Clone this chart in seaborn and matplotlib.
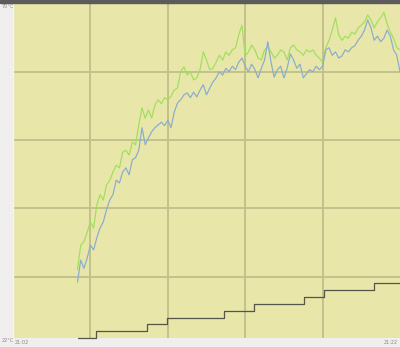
import numpy as np
import pandas as pd
import matplotlib
matplotlib.use("Agg")
import matplotlib.pyplot as plt
import seaborn as sns

# sample clock: one reading every 10 s from 21:05:20 to 21:22:00 (seconds after 21:02)
time_s = np.arange(200, 1201, 10)

sensor_green = [31.0, 34.6, 35.1, 36.5, 38.0, 37.1, 40.5, 42.0, 41.2, 43.4,
                44.1, 45.3, 46.3, 45.9, 48.2, 48.5, 47.8, 49.7, 49.3, 52.2,
                54.7, 53.2, 54.4, 53.2, 55.1, 55.9, 55.3, 56.2, 55.9, 56.4,
                57.3, 57.6, 60.0, 60.7, 59.5, 60.0, 58.8, 59.1, 60.3, 62.9,
                61.7, 60.3, 60.5, 61.4, 62.4, 61.7, 62.9, 62.4, 63.2, 63.5,
                65.4, 66.8, 62.3, 62.9, 63.9, 63.2, 62.0, 61.7, 63.2, 63.6,
                62.9, 62.0, 62.4, 63.2, 62.9, 61.7, 63.5, 63.9, 63.2, 62.9,
                62.4, 63.2, 62.9, 63.2, 62.4, 62.0, 61.4, 63.5, 64.6, 66.1,
                67.9, 65.4, 64.6, 65.2, 64.9, 65.8, 65.5, 66.4, 66.8, 67.3,
                68.3, 67.6, 66.4, 67.3, 67.9, 68.7, 67.0, 65.8, 64.9, 63.5,
                63.2]

sensor_blue = [29.2, 32.4, 31.2, 32.7, 34.6, 33.9, 35.7, 37.1, 38.0, 39.8,
               41.2, 42.0, 44.1, 43.7, 45.3, 45.9, 44.9, 47.1, 47.4, 48.5,
               51.8, 49.3, 50.3, 51.2, 51.8, 52.2, 52.6, 52.1, 52.9, 51.8,
               54.1, 55.4, 55.9, 56.6, 56.9, 56.2, 57.0, 56.3, 57.3, 58.1,
               56.6, 57.6, 58.5, 59.1, 60.0, 59.5, 60.5, 60.0, 60.8, 60.3,
               61.4, 62.0, 60.8, 60.0, 61.1, 60.3, 59.1, 60.5, 61.7, 64.4,
               61.4, 59.2, 60.3, 60.8, 59.1, 60.5, 62.6, 61.7, 60.5, 61.1,
               59.1, 59.7, 60.3, 60.0, 60.8, 60.3, 60.8, 63.2, 63.5, 62.4,
               62.9, 62.0, 62.3, 63.2, 62.9, 63.5, 63.8, 64.6, 65.2, 66.1,
               67.6, 66.4, 64.6, 65.2, 64.4, 64.9, 66.1, 65.2, 63.2, 62.4,
               60.0]

step_time_s = [202, 257, 416, 477, 653, 746, 903, 965, 1118, 1200]
step_value = [21, 22, 23, 24, 25, 26, 27, 28, 29, 29]

label_top = "70°C"
label_bottom = "22°C"
label_start = "21:02"
label_end = "21:22"

df_g = pd.DataFrame({"t": time_s, "v": sensor_green})
df_b = pd.DataFrame({"t": time_s, "v": sensor_blue})
df_s = pd.DataFrame({"t": step_time_s, "v": step_value})

sns.set_theme(style="white")
plt.rcParams["font.family"] = ["DejaVu Sans"]

W, H = 400, 347
fig = plt.figure(figsize=(W / 100, H / 100), dpi=100)
fig.patch.set_facecolor("#f0efed")
ax = fig.add_axes([13 / W, 9 / H, 387 / W, 334.6 / H])
ax.set_facecolor("#e8e6a8")

ax.set_xlim(0, 1200)
ax.set_ylim(21, 70)
ax.set_xticks([240, 480, 720, 960])
ax.set_yticks([30, 40, 50, 60])
ax.grid(True, color="#c2c08c", linewidth=1.4)
ax.tick_params(length=0, labelbottom=False, labelleft=False)
for side in ["top", "right", "bottom"]:
    ax.spines[side].set_visible(False)
ax.spines["left"].set_color("#f6f5e6")
ax.spines["left"].set_linewidth(1.0)

sns.lineplot(data=df_g, x="t", y="v", ax=ax, color="#9ee05c", linewidth=0.85)
sns.lineplot(data=df_b, x="t", y="v", ax=ax, color="#88acd0", linewidth=0.85)
sns.lineplot(data=df_s, x="t", y="v", ax=ax, color="#55554a", linewidth=0.9,
             drawstyle="steps-post", clip_on=False)
ax.set_xlabel("")
ax.set_ylabel("")

# dark strip at the top of the frame
fig.patches.append(matplotlib.patches.Rectangle((0, 1 - 2.5 / H), 1, 2.5 / H,
                   transform=fig.transFigure, color="#5c5c5c", zorder=5))

tc = "#8a8a8a"
fs = 3.6
fig.text(1.5 / W, 1 - 7 / H, label_top, fontsize=fs, color=tc, va="center", ha="left")
fig.text(1.5 / W, 1 - 341 / H, label_bottom, fontsize=fs, color=tc, va="center", ha="left")
fig.text(14.5 / W, 1 - 343 / H, label_start, fontsize=fs, color=tc, va="center", ha="left")
fig.text(398 / W, 1 - 343 / H, label_end, fontsize=fs, color=tc, va="center", ha="right")

fig.savefig("out.png", dpi=100, facecolor=fig.get_facecolor())
